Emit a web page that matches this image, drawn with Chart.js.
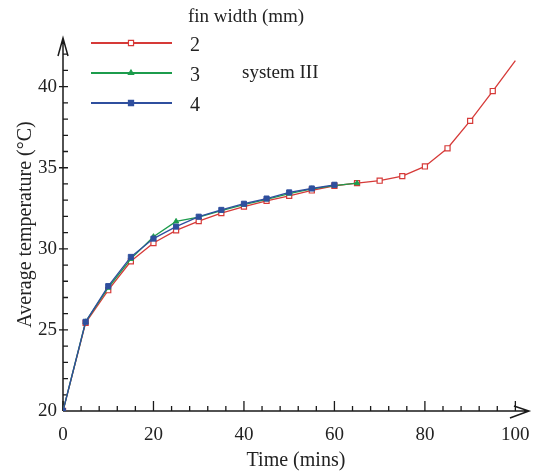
<!DOCTYPE html>
<html>
<head>
<meta charset="utf-8">
<script src="https://cdn.jsdelivr.net/npm/chart.js@4"></script>
<style>
  html, body { margin: 0; padding: 0; background: #fff; }
  #wrap { width: 543px; height: 473px; }
</style>
</head>
<body>
<div id="wrap"><canvas id="tempChart" width="543" height="473"></canvas></div>
<script>
// time in minutes, shared by all series
const times = [0, 5, 10, 15, 20, 25, 30, 35, 40, 45, 50, 55, 60, 65, 70, 75, 80, 85, 90, 95, 100];
const seriesNames = ['2', '3', '4'];
const temp2mm = [20, 25.43, 27.45, 29.23, 30.36, 31.14, 31.71, 32.2, 32.6, 32.96, 33.27, 33.6, 33.89, 34.05, 34.2, 34.48, 35.08, 36.2, 37.89, 39.73, 41.6];
const temp3mm = [20, 25.5, 27.6, 29.38, 30.75, 31.69, 31.95, 32.35, 32.72, 33.05, 33.4, 33.7, 33.9, 34.05];
const temp4mm = [20, 25.5, 27.7, 29.5, 30.63, 31.37, 31.98, 32.4, 32.78, 33.1, 33.48, 33.72, 33.95];
const xTicks = [0, 20, 40, 60, 80, 100];
const yTicks = [20, 25, 30, 35, 40];

const serif = "'Liberation Serif', 'DejaVu Serif', serif";

function toPoints(vals) {
  return vals.map((v, i) => ({ x: times[i], y: v }));
}

// axes with arrow heads and tick marks
const axesPlugin = {
  id: 'arrowAxes',
  beforeDatasetsDraw(chart) {
    const ctx = chart.ctx;
    const xs = chart.scales.x, ys = chart.scales.y;
    const x0 = xs.getPixelForValue(0), y0 = ys.getPixelForValue(20);
    const xEnd = xs.right, yEnd = ys.top;
    ctx.save();
    ctx.strokeStyle = '#1a1a1a';
    ctx.lineWidth = 1.5;
    ctx.beginPath();
    ctx.moveTo(x0, y0); ctx.lineTo(xEnd, y0);
    ctx.moveTo(x0, y0); ctx.lineTo(x0, yEnd);
    // arrows
    ctx.moveTo(xEnd - 15, y0 - 5); ctx.lineTo(xEnd, y0); ctx.lineTo(xEnd - 19, y0 + 7);
    ctx.moveTo(x0 - 5, yEnd + 18); ctx.lineTo(x0, yEnd); ctx.lineTo(x0 + 5, yEnd + 18);
    ctx.stroke();
    ctx.lineWidth = 1.3;
    ctx.beginPath();
    for (let v = 0; v <= 100; v += 4) {
      const px = xs.getPixelForValue(v);
      const len = v % 20 === 0 ? 10 : 5;
      ctx.moveTo(px, y0); ctx.lineTo(px, y0 - len);
    }
    for (let v = 21; v <= 42; v += 1) {
      const py = ys.getPixelForValue(v);
      if (v % 5 === 0) { ctx.moveTo(x0 - 4, py); ctx.lineTo(x0 + 5, py); }
      else { ctx.moveTo(x0, py); ctx.lineTo(x0 + 5, py); }
    }
    ctx.stroke();
    ctx.restore();
  }
};

// legend block in the upper left
const legendPlugin = {
  id: 'finLegend',
  afterDraw(chart) {
    const ctx = chart.ctx;
    ctx.save();
    ctx.fillStyle = '#222';
    ctx.font = '19px ' + serif;
    ctx.textBaseline = 'middle';
    ctx.textAlign = 'left';
    ctx.fillText('fin width (mm)', 188, 17);
    chart.data.datasets.forEach((ds, i) => {
      const y = 43 + i * 30;
      ctx.strokeStyle = ds.borderColor;
      ctx.lineWidth = 2;
      ctx.beginPath();
      ctx.moveTo(91, y); ctx.lineTo(172, y);
      ctx.stroke();
      ctx.fillStyle = ds.pointBackgroundColor;
      ctx.strokeStyle = ds.borderColor;
      ctx.lineWidth = 1.2;
      Chart.helpers.drawPoint(ctx, { pointStyle: ds.pointStyle, radius: ds.legendRadius, borderWidth: 1.2, rotation: 0 }, 131, y);
      ctx.fillStyle = '#222';
      ctx.font = '20px ' + serif;
      ctx.fillText(ds.label, 190, y + 3);
    });
    ctx.font = '19px ' + serif;
    ctx.fillText('system III', 242, 73);
    ctx.restore();
  }
};

const ctx = document.getElementById('tempChart').getContext('2d');
new Chart(ctx, {
  type: 'line',
  data: {
    datasets: [{
      label: seriesNames[0],
      data: toPoints(temp2mm),
      borderColor: '#d63a38',
      backgroundColor: '#ffffff',
      pointBackgroundColor: '#ffffff',
      pointBorderColor: '#d63a38',
      pointStyle: 'rect',
      pointRadius: c => (c.dataIndex === temp2mm.length - 1 ? 0 : 3.6),
      legendRadius: 3.6,
      pointBorderWidth: 1.2,
      borderWidth: 1.3,
      order: 2
    }, {
      label: seriesNames[1],
      data: toPoints(temp3mm),
      borderColor: '#1c9c4c',
      backgroundColor: '#1c9c4c',
      pointBackgroundColor: '#1c9c4c',
      pointBorderColor: '#1c9c4c',
      pointStyle: 'triangle',
      pointRadius: 3,
      legendRadius: 3,
      pointBorderWidth: 1,
      borderWidth: 1.3,
      order: 1
    }, {
      label: seriesNames[2],
      data: toPoints(temp4mm),
      borderColor: '#2f4f9e',
      backgroundColor: '#2f4f9e',
      pointBackgroundColor: '#2f4f9e',
      pointBorderColor: '#2f4f9e',
      pointStyle: 'rect',
      pointRadius: 3.6,
      legendRadius: 3.6,
      pointBorderWidth: 1,
      borderWidth: 1.3,
      order: 0
    }]
  },
  options: {
    responsive: false,
    animation: false,
    layout: { padding: { top: 38, right: 13, left: 0, bottom: 0 } },
    plugins: {
      legend: { display: false },
      tooltip: { enabled: false }
    },
    scales: {
      x: {
        type: 'linear',
        min: 0,
        max: 103,
        afterBuildTicks: s => { s.ticks = xTicks.map(v => ({ value: v })); },
        afterFit: s => { s.height = 62; },
        grid: { display: false, drawTicks: false },
        border: { display: false },
        ticks: { color: '#222', padding: 13, font: { family: serif, size: 19 } },
        title: { display: true, text: 'Time (mins)', color: '#222', padding: { top: 0, bottom: 0 }, font: { family: serif, size: 20 } }
      },
      y: {
        type: 'linear',
        min: 20,
        max: 43,
        afterBuildTicks: s => { s.ticks = yTicks.map(v => ({ value: v })); },
        afterFit: s => { s.width = 63; },
        grid: { display: false, drawTicks: false },
        border: { display: false },
        ticks: { color: '#222', padding: 6, font: { family: serif, size: 19 } },
        title: { display: true, text: 'Average temperature (°C)', color: '#222', padding: { top: 14, bottom: 0 }, font: { family: serif, size: 20 } }
      }
    }
  },
  plugins: [axesPlugin, legendPlugin]
});
</script>
</body>
</html>
